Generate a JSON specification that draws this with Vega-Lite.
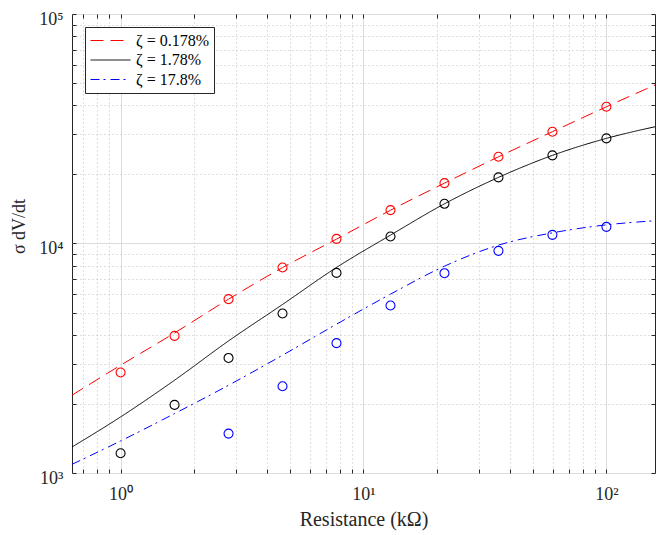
{
  "$schema": "https://vega.github.io/schema/vega-lite/v6.json",
  "width": 583,
  "height": 459,
  "autosize": "none",
  "padding": {"left": 72, "top": 14, "right": 9, "bottom": 62},
  "background": "white",
  "config": {
    "view": {"stroke": "#262626", "strokeWidth": 1},
    "font": "Liberation Serif",
    "axis": {
      "labelFont": "Liberation Serif",
      "titleFont": "Liberation Serif",
      "labelFontSize": 18,
      "titleFontSize": 20,
      "labelColor": "#262626",
      "titleColor": "#262626",
      "titleFontWeight": "normal",
      "domain": false,
      "tickColor": "#262626",
      "tickSize": -4,
      "labelFlush": false,
      "labelOverlap": false
    }
  },
  "datasets": {
    "curves": [
      {"series": "ζ = 0.178%", "R": 0.631, "sigma": 2182},
      {"series": "ζ = 0.178%", "R": 1, "sigma": 2948},
      {"series": "ζ = 0.178%", "R": 1.6681, "sigma": 4075},
      {"series": "ζ = 0.178%", "R": 2.7826, "sigma": 5720},
      {"series": "ζ = 0.178%", "R": 4.6416, "sigma": 7850},
      {"series": "ζ = 0.178%", "R": 7.7426, "sigma": 10450},
      {"series": "ζ = 0.178%", "R": 12.9155, "sigma": 13960},
      {"series": "ζ = 0.178%", "R": 21.5443, "sigma": 18320},
      {"series": "ζ = 0.178%", "R": 35.9381, "sigma": 23860},
      {"series": "ζ = 0.178%", "R": 59.9484, "sigma": 30700},
      {"series": "ζ = 0.178%", "R": 100, "sigma": 39430},
      {"series": "ζ = 0.178%", "R": 158.5, "sigma": 49030},
      {"series": "ζ = 1.78%", "R": 0.631, "sigma": 1298},
      {"series": "ζ = 1.78%", "R": 1, "sigma": 1755},
      {"series": "ζ = 1.78%", "R": 1.6681, "sigma": 2537},
      {"series": "ζ = 1.78%", "R": 2.7826, "sigma": 3763},
      {"series": "ζ = 1.78%", "R": 4.6416, "sigma": 5424},
      {"series": "ζ = 1.78%", "R": 7.7426, "sigma": 7864},
      {"series": "ζ = 1.78%", "R": 12.9155, "sigma": 10875},
      {"series": "ζ = 1.78%", "R": 21.5443, "sigma": 14890},
      {"series": "ζ = 1.78%", "R": 35.9381, "sigma": 19410},
      {"series": "ζ = 1.78%", "R": 59.9484, "sigma": 24210},
      {"series": "ζ = 1.78%", "R": 100, "sigma": 28710},
      {"series": "ζ = 1.78%", "R": 158.5, "sigma": 32260},
      {"series": "ζ = 17.8%", "R": 0.631, "sigma": 1091},
      {"series": "ζ = 17.8%", "R": 1, "sigma": 1379},
      {"series": "ζ = 17.8%", "R": 1.6681, "sigma": 1815},
      {"series": "ζ = 17.8%", "R": 2.7826, "sigma": 2412},
      {"series": "ζ = 17.8%", "R": 4.6416, "sigma": 3260},
      {"series": "ζ = 17.8%", "R": 7.7426, "sigma": 4450},
      {"series": "ζ = 17.8%", "R": 12.9155, "sigma": 6015},
      {"series": "ζ = 17.8%", "R": 21.5443, "sigma": 7965},
      {"series": "ζ = 17.8%", "R": 35.9381, "sigma": 9835},
      {"series": "ζ = 17.8%", "R": 59.9484, "sigma": 11128},
      {"series": "ζ = 17.8%", "R": 100, "sigma": 12058},
      {"series": "ζ = 17.8%", "R": 158.5, "sigma": 12560}
    ],
    "points": [
      {"series": "ζ = 0.178%", "R": 1, "sigma": 2741},
      {"series": "ζ = 0.178%", "R": 1.6681, "sigma": 3957},
      {"series": "ζ = 0.178%", "R": 2.7826, "sigma": 5721},
      {"series": "ζ = 0.178%", "R": 4.6416, "sigma": 7864},
      {"series": "ζ = 0.178%", "R": 7.7426, "sigma": 10479},
      {"series": "ζ = 0.178%", "R": 12.9155, "sigma": 13980},
      {"series": "ζ = 0.178%", "R": 21.5443, "sigma": 18333},
      {"series": "ζ = 0.178%", "R": 35.9381, "sigma": 23866},
      {"series": "ζ = 0.178%", "R": 59.9484, "sigma": 30681},
      {"series": "ζ = 0.178%", "R": 100, "sigma": 39430},
      {"series": "ζ = 1.78%", "R": 1, "sigma": 1219},
      {"series": "ζ = 1.78%", "R": 1.6681, "sigma": 1980},
      {"series": "ζ = 1.78%", "R": 2.7826, "sigma": 3172},
      {"series": "ζ = 1.78%", "R": 4.6416, "sigma": 4955},
      {"series": "ζ = 1.78%", "R": 7.7426, "sigma": 7447},
      {"series": "ζ = 1.78%", "R": 12.9155, "sigma": 10733},
      {"series": "ζ = 1.78%", "R": 21.5443, "sigma": 14890},
      {"series": "ζ = 1.78%", "R": 35.9381, "sigma": 19410},
      {"series": "ζ = 1.78%", "R": 59.9484, "sigma": 24210},
      {"series": "ζ = 1.78%", "R": 100, "sigma": 28710},
      {"series": "ζ = 17.8%", "R": 2.7826, "sigma": 1485},
      {"series": "ζ = 17.8%", "R": 4.6416, "sigma": 2388},
      {"series": "ζ = 17.8%", "R": 7.7426, "sigma": 3679},
      {"series": "ζ = 17.8%", "R": 12.9155, "sigma": 5370},
      {"series": "ζ = 17.8%", "R": 21.5443, "sigma": 7424},
      {"series": "ζ = 17.8%", "R": 35.9381, "sigma": 9290},
      {"series": "ζ = 17.8%", "R": 59.9484, "sigma": 10907},
      {"series": "ζ = 17.8%", "R": 100, "sigma": 11818}
    ]
  },
  "layer": [
    {
      "data": {"name": "curves"},
      "mark": {"type": "line", "clip": true, "interpolate": "monotone", "strokeWidth": 1},
      "encoding": {
        "x": {
          "field": "R", "type": "quantitative",
          "scale": {"type": "log", "domain": [0.631, 158.5], "nice": false, "zero": false},
          "axis": {
            "orient": "bottom",
            "title": "Resistance (kΩ)",
            "titlePadding": 6,
            "labelPadding": 16,
            "values": [0.7, 0.8, 0.9, 1, 2, 3, 4, 5, 6, 7, 8, 9, 10, 20, 30, 40, 50, 60, 70, 80, 90, 100],
            "labelExpr": "datum.value == 1 ? '10⁰' : datum.value == 10 ? '10¹' : datum.value == 100 ? '10²' : ''",
            "grid": true,
            "gridColor": {"condition": {"test": "datum.value == 1 || datum.value == 10 || datum.value == 100", "value": "#dcdcdc"}, "value": "#c0c0c0"},
            "gridDash": {"condition": {"test": "datum.value == 1 || datum.value == 10 || datum.value == 100", "value": []}, "value": [1, 3]},
            "gridWidth": 1
          }
        },
        "y": {
          "field": "sigma", "type": "quantitative",
          "scale": {"type": "log", "domain": [1000, 100000], "nice": false, "zero": false},
          "axis": {
            "orient": "left",
            "title": "σ dV/dt",
            "titleFontSize": 18,
            "titlePadding": 10,
            "titleY": 212,
            "labelPadding": 13,
            "labelOffset": 5,
            "values": [1000, 2000, 3000, 4000, 5000, 6000, 7000, 8000, 9000, 10000, 20000, 30000, 40000, 50000, 60000, 70000, 80000, 90000, 100000],
            "labelExpr": "datum.value == 1000 ? '10³' : datum.value == 10000 ? '10⁴' : datum.value == 100000 ? '10⁵' : ''",
            "grid": true,
            "gridColor": {"condition": {"test": "datum.value == 1000 || datum.value == 10000 || datum.value == 100000", "value": "#dcdcdc"}, "value": "#c0c0c0"},
            "gridDash": {"condition": {"test": "datum.value == 1000 || datum.value == 10000 || datum.value == 100000", "value": []}, "value": [1, 3]},
            "gridWidth": 1
          }
        },
        "color": {
          "field": "series", "type": "nominal",
          "scale": {"domain": ["ζ = 0.178%", "ζ = 1.78%", "ζ = 17.8%"], "range": ["#ff0000", "#000000", "#0000ff"]},
          "legend": {
            "title": null,
            "orient": "top-left",
            "offset": 13,
            "fillColor": "white",
            "strokeColor": "#262626",
            "padding": 5,
            "labelFont": "Liberation Serif",
            "labelFontSize": 16,
            "labelColor": "#000000",
            "symbolType": "M-1,0H4",
            "symbolSize": 256,
            "symbolStrokeWidth": 1,
            "labelOffset": 29,
            "rowPadding": 2.5
          }
        },
        "strokeDash": {
          "field": "series", "type": "nominal",
          "scale": {"domain": ["ζ = 0.178%", "ζ = 1.78%", "ζ = 17.8%"], "range": [[13, 7], [1, 0], [9, 4, 2, 5]]},
          "legend": {
            "title": null,
            "orient": "top-left",
            "offset": 13,
            "fillColor": "white",
            "strokeColor": "#262626",
            "padding": 5,
            "labelFont": "Liberation Serif",
            "labelFontSize": 16,
            "labelColor": "#000000",
            "symbolType": "M-1,0H4",
            "symbolSize": 256,
            "symbolStrokeWidth": 1,
            "labelOffset": 29,
            "rowPadding": 2.5
          }
        }
      }
    },
    {
      "data": {"name": "points"},
      "mark": {"type": "point", "shape": "circle", "filled": false, "size": 81, "strokeWidth": 1.1, "opacity": 1},
      "encoding": {
        "x": {
          "field": "R", "type": "quantitative",
          "scale": {"type": "log", "domain": [0.631, 158.5], "nice": false, "zero": false},
          "axis": {
            "orient": "top", "title": null, "labels": false, "grid": false,
            "values": [0.7, 0.8, 0.9, 1, 2, 3, 4, 5, 6, 7, 8, 9, 10, 20, 30, 40, 50, 60, 70, 80, 90, 100]
          }
        },
        "y": {
          "field": "sigma", "type": "quantitative",
          "scale": {"type": "log", "domain": [1000, 100000], "nice": false, "zero": false},
          "axis": {
            "orient": "right", "title": null, "labels": false, "grid": false,
            "values": [1000, 2000, 3000, 4000, 5000, 6000, 7000, 8000, 9000, 10000, 20000, 30000, 40000, 50000, 60000, 70000, 80000, 90000, 100000]
          }
        },
        "color": {"field": "series", "type": "nominal", "legend": null}
      }
    }
  ],
  "resolve": {"axis": {"x": "independent", "y": "independent"}}
}
